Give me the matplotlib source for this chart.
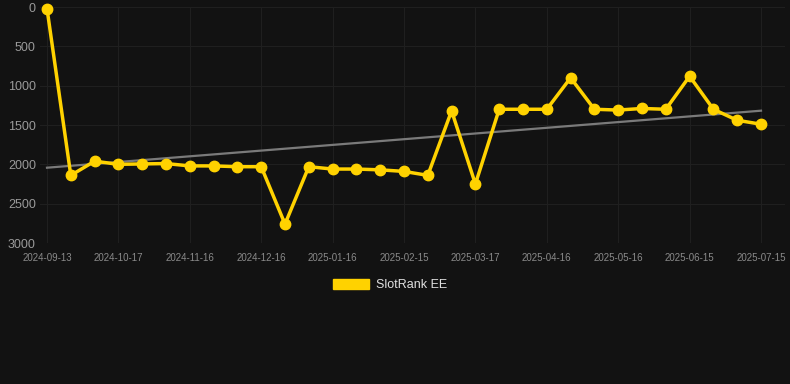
import matplotlib.pyplot as plt
import matplotlib.patches as mpatches
import numpy as np

plt.rcParams['font.family'] = ['Liberation Sans', 'DejaVu Sans']

# rank every 10 days (lower = better)
rank = [20, 2140, 1960, 2000, 1995, 1990, 2020, 2020, 2030, 2030,
        2760, 2030, 2060, 2060, 2070, 2090, 2140, 1320, 2250, 1300,
        1300, 1300, 900, 1300, 1310, 1290, 1300, 880, 1300, 1440, 1490]
tick_labels = ["2024-09-13", "2024-10-17", "2024-11-16", "2024-12-16",
               "2025-01-16", "2025-02-15", "2025-03-17", "2025-04-16",
               "2025-05-16", "2025-06-15", "2025-07-15"]
y_ticks = [0, 500, 1000, 1500, 2000, 2500, 3000]

bg = "#121212"
yellow = "#FFD200"

fig = plt.figure(figsize=(7.9, 3.84), dpi=100, facecolor=bg)
W, H = 790, 384
ax = fig.add_axes([40/W, 1-243/H, 745/W, 236/H], facecolor=bg)

x = np.arange(len(rank))
# trend line (least squares)
k, b = np.polyfit(x, rank, 1)
ax.plot([x[0], x[-1]], [k*x[0]+b, k*x[-1]+b], color="#7a7a7a", lw=1.6, zorder=2)

ax.plot(x, rank, color=yellow, lw=2.5, marker="o", ms=7.5, zorder=3, clip_on=False)

ax.set_ylim(3000, 0)
ax.set_xlim(-7/23.8, 30 + 24/23.8)
ax.set_yticks(y_ticks)
ax.set_xticks(np.arange(0, 31, 3))
ax.set_xticklabels(tick_labels)
ax.grid(True, color="#1f1f1f", lw=0.8)
ax.set_axisbelow(True)
for s in ax.spines.values():
    s.set_visible(False)
ax.tick_params(axis="y", length=0, pad=3, labelsize=9, labelcolor="#9a9a9a")
ax.tick_params(axis="x", length=0, pad=7, labelsize=7, labelcolor="#8a8a8a")

patch = mpatches.Patch(color=yellow, label="SlotRank EE")
leg = fig.legend(handles=[patch], loc="center", bbox_to_anchor=(390/W, 1-285/H),
                 frameon=False, fontsize=9, labelcolor="#e0e0e0",
                 handlelength=2.9, handleheight=0.9, handletextpad=0.5)

fig.savefig("out.png", dpi=100, facecolor=bg)
